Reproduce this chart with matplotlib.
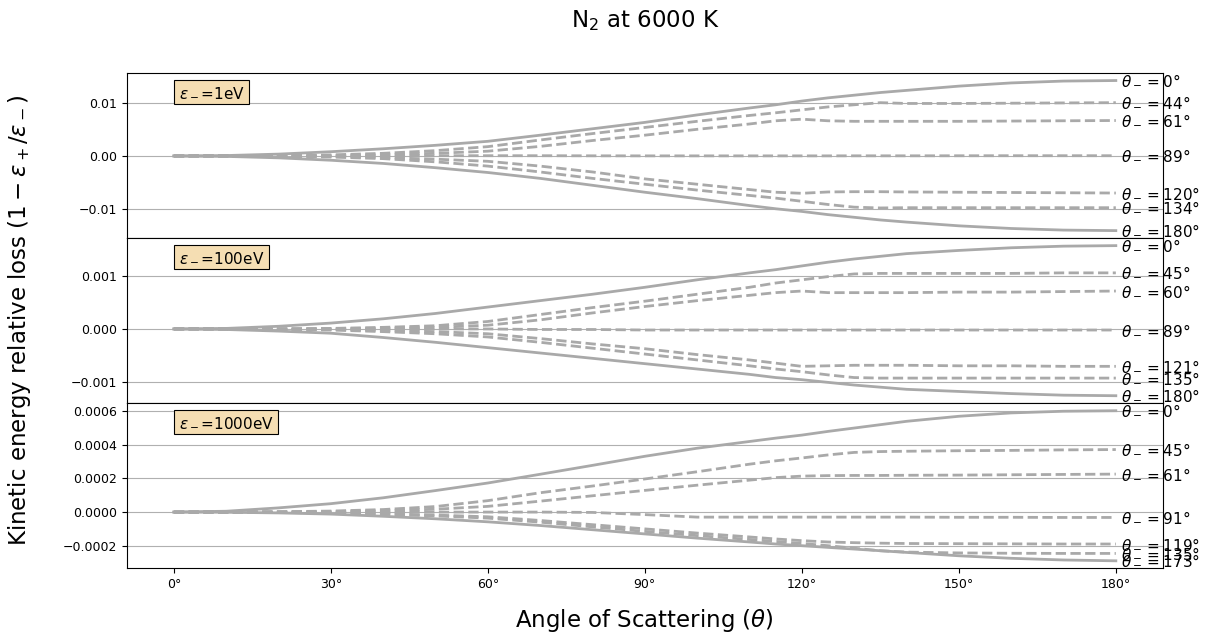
import matplotlib
matplotlib.use('Agg')
import matplotlib.pyplot as plt
import numpy as np
from matplotlib.ticker import MultipleLocator

# scattering angle (deg) where the curves are sampled
theta = [0, 10, 20, 30, 40, 50, 60, 70, 80, 90, 100, 110, 115, 120, 125, 130, 135, 140, 150, 160, 170, 180]

# eps_- = 1 eV  (values in 1e-3)
theta_minus_1 = [0, 44, 61, 89, 120, 134, 180]
loss_1 = [
    [0, 0.08, 0.35, 0.8, 1.35, 2.0, 2.75, 3.9, 5.1, 6.3, 7.7, 9.0, 9.6, 10.3, 10.9, 11.4, 11.9, 12.3, 13.1, 13.7, 14.05, 14.15],
    [0, 0, 0.05, 0.2, 0.5, 1.0, 1.75, 3.0, 4.2, 5.35, 6.5, 7.6, 8.1, 8.65, 9.2, 9.6, 10.0, 9.85, 9.85, 9.9, 9.95, 10.0],
    [0, 0, 0.02, 0.1, 0.25, 0.5, 0.9, 1.8, 2.9, 3.9, 5.0, 6.0, 6.6, 6.9, 6.6, 6.5, 6.5, 6.5, 6.5, 6.55, 6.6, 6.65],
    [0, 0, 0, 0, 0.02, 0.05, 0.05, 0.05, 0.03, 0.02, 0.02, 0.02, 0.02, 0.02, 0.02, 0.03, 0.03, 0.03, 0.04, 0.05, 0.05, 0.05],
    [0, 0, -0.02, -0.1, -0.3, -0.6, -1.0, -1.9, -3.0, -4.3, -5.3, -6.3, -6.8, -7.0, -6.75, -6.7, -6.7, -6.75, -6.8, -6.85, -6.9, -6.95],
    [0, 0, -0.05, -0.2, -0.5, -1.1, -1.9, -3.0, -4.2, -5.3, -6.4, -7.4, -7.9, -8.5, -9.1, -9.6, -9.75, -9.7, -9.7, -9.7, -9.7, -9.7],
    [0, -0.08, -0.35, -0.8, -1.4, -2.2, -3.1, -4.2, -5.5, -6.8, -8.0, -9.3, -9.9, -10.4, -11.0, -11.5, -12.0, -12.4, -13.1, -13.6, -13.9, -14.0],
]

# eps_- = 100 eV  (values in 1e-3)
theta_minus_100 = [0, 45, 60, 89, 121, 135, 180]
loss_100 = [
    [0, 0.01, 0.05, 0.11, 0.19, 0.29, 0.41, 0.53, 0.65, 0.78, 0.92, 1.05, 1.11, 1.18, 1.25, 1.31, 1.36, 1.41, 1.47, 1.52, 1.55, 1.56],
    [0, 0, 0, 0.01, 0.03, 0.06, 0.14, 0.27, 0.40, 0.52, 0.65, 0.78, 0.86, 0.92, 0.98, 1.03, 1.04, 1.04, 1.04, 1.04, 1.05, 1.05],
    [0, 0, 0, 0, 0.01, 0.03, 0.07, 0.17, 0.30, 0.42, 0.53, 0.63, 0.68, 0.71, 0.68, 0.68, 0.68, 0.68, 0.69, 0.69, 0.70, 0.71],
    [0, 0, 0, 0, 0, 0, 0, -0.01, -0.01, -0.02, -0.02, -0.02, -0.02, -0.02, -0.02, -0.02, -0.02, -0.02, -0.02, -0.02, -0.02, -0.02],
    [0, 0, 0, -0.01, -0.03, -0.05, -0.09, -0.18, -0.28, -0.37, -0.48, -0.58, -0.64, -0.70, -0.69, -0.68, -0.68, -0.68, -0.69, -0.69, -0.70, -0.70],
    [0, 0, -0.01, -0.02, -0.05, -0.09, -0.15, -0.25, -0.36, -0.47, -0.58, -0.69, -0.75, -0.80, -0.86, -0.91, -0.92, -0.92, -0.92, -0.92, -0.92, -0.92],
    [0, -0.01, -0.04, -0.08, -0.16, -0.25, -0.35, -0.45, -0.55, -0.65, -0.75, -0.85, -0.91, -0.95, -1.0, -1.05, -1.09, -1.13, -1.17, -1.21, -1.24, -1.25],
]

# eps_- = 1000 eV  (values in 1e-4)
theta_minus_1000 = [0, 45, 61, 91, 119, 135, 173]
loss_1000 = [
    [0, 0.05, 0.25, 0.5, 0.85, 1.28, 1.73, 2.25, 2.78, 3.32, 3.8, 4.2, 4.4, 4.58, 4.8, 5.0, 5.2, 5.4, 5.7, 5.9, 6.0, 6.03],
    [0, 0, 0.02, 0.06, 0.15, 0.33, 0.68, 1.15, 1.55, 1.97, 2.4, 2.85, 3.05, 3.22, 3.4, 3.55, 3.6, 3.62, 3.65, 3.67, 3.7, 3.72],
    [0, 0, 0.01, 0.03, 0.08, 0.17, 0.34, 0.65, 0.97, 1.29, 1.6, 1.9, 2.05, 2.14, 2.17, 2.18, 2.18, 2.19, 2.2, 2.22, 2.24, 2.26],
    [0, 0, 0, 0, 0, 0, 0, 0, -0.02, -0.15, -0.3, -0.3, -0.3, -0.3, -0.3, -0.3, -0.3, -0.3, -0.31, -0.31, -0.32, -0.32],
    [0, 0, -0.01, -0.05, -0.1, -0.18, -0.28, -0.5, -0.75, -1.0, -1.25, -1.48, -1.6, -1.7, -1.78, -1.82, -1.85, -1.87, -1.88, -1.89, -1.9, -1.9],
    [0, 0, -0.02, -0.06, -0.13, -0.23, -0.36, -0.6, -0.88, -1.15, -1.4, -1.63, -1.75, -1.87, -2.0, -2.15, -2.3, -2.38, -2.43, -2.45, -2.46, -2.46],
    [0, -0.01, -0.05, -0.12, -0.25, -0.4, -0.58, -0.8, -1.05, -1.3, -1.55, -1.78, -1.9, -2.0, -2.1, -2.2, -2.3, -2.4, -2.6, -2.75, -2.85, -2.9],
]

energies = ['1eV', '100eV', '1000eV']
panels = [
    (theta_minus_1, loss_1, 1e-3, 0.01),
    (theta_minus_100, loss_100, 1e-3, 0.001),
    (theta_minus_1000, loss_1000, 1e-4, 0.0002),
]
xticks = [0, 30, 60, 90, 120, 150, 180]

fig, axes = plt.subplots(3, 1, figsize=(12.19, 6.35), dpi=100, sharex=True)
left, right, top, bottom = 0.104, 0.954, 0.885, 0.105
fig.subplots_adjust(left=left, right=right, top=top, bottom=bottom, hspace=0)

for ax, energy, (tm, losses, scale, step) in zip(axes, energies, panels):
    n = len(losses)
    for i, (t, vals) in enumerate(zip(tm, losses)):
        y = np.array(vals) * scale
        ls = '-' if i in (0, n - 1) else '--'
        ax.plot(theta, y, color='darkgray', lw=2, ls=ls)
        ax.annotate(r'$\theta_-=$' + '%d°' % t, (theta[-1], y[-1]),
                    xytext=(4, 0), textcoords='offset points',
                    fontsize=11, ha='left', va='center')
    ax.yaxis.set_major_locator(MultipleLocator(step))
    ax.yaxis.grid(True, color='#b0b0b0', lw=0.8)
    ax.tick_params(labelsize=9)
    ax.text(0.05, 0.93, r'$\epsilon_-$=' + energy, transform=ax.transAxes,
            fontsize=11, ha='left', va='top',
            bbox=dict(boxstyle='square,pad=0.3', facecolor='wheat', edgecolor='black', lw=0.8))

axes[-1].set_xticks(xticks)
axes[-1].set_xticklabels(['%d°' % a for a in xticks])

xc = (left + right) / 2
yc = (top + bottom) / 2
fig.text(xc, 0.968, r'N$_2$ at 6000 K', fontsize=16.5, ha='center', va='center')
fig.text(xc, 0.023, r'Angle of Scattering ($\theta$)', fontsize=16.5, ha='center', va='center')
fig.text(0.016, yc, r'Kinetic energy relative loss $(1-\epsilon_+/\epsilon_-)$', fontsize=16.5,
         ha='center', va='center', rotation=90)

fig.savefig('out.png', dpi=100)
